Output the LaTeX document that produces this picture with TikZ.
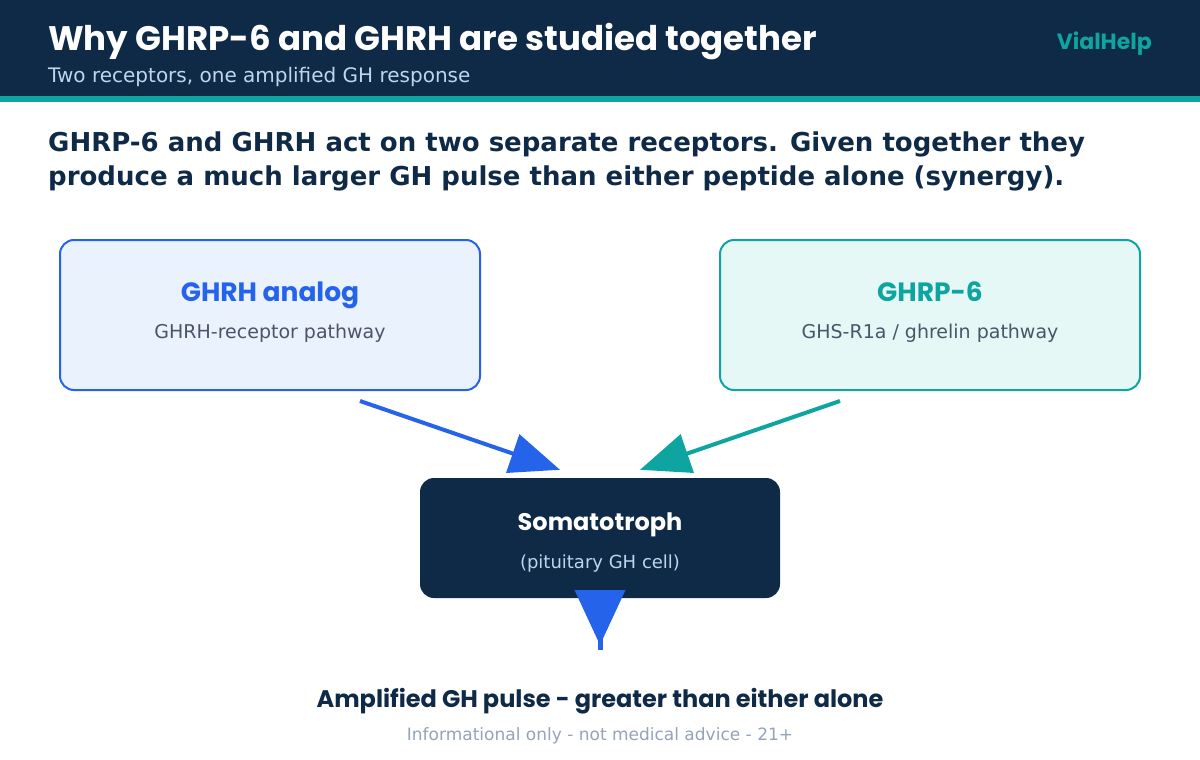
\documentclass[tikz,border=0pt]{standalone}
\usepackage{fontspec}
\setmainfont{DejaVu Sans}
\newfontfamily\popfont{Poppins}
\usetikzlibrary{arrows.meta,positioning}
\definecolor{navy}{HTML}{0F2A47}
\definecolor{tealc}{HTML}{0EA5A0}
\definecolor{bluec}{HTML}{2563EB}
\definecolor{bluebg}{HTML}{EAF2FD}
\definecolor{tealbg}{HTML}{E6F8F6}
\definecolor{subgray}{HTML}{4A5568}
\definecolor{footgray}{HTML}{94A3B8}
\definecolor{paleblue}{HTML}{BFD4EE}

\begin{document}
\begin{tikzpicture}[x=1pt,y=-1pt,
			pathbox/.style={draw, line width=2pt, rounded corners=14pt, minimum width=420pt, minimum height=150pt},
			txt/.style={anchor=base, inner sep=0pt},
			flow/.style={line width=4pt, -{Triangle[length=50pt,width=40pt]}}]
			\useasboundingbox (0,0) rectangle (1200,760);
			% header band
			\fill[navy] (0,0) rectangle (1200,96);
			\fill[tealc] (0,96) rectangle (1200,102);
			\node[txt, anchor=base west, text=white, font=\popfont\bfseries\fontsize{34}{40}\selectfont] (title) at (48,51) {Why GHRP-6 and GHRH are studied together};
			\node[txt, anchor=base west, text=paleblue, font=\fontsize{20}{24}\selectfont] (subtitle) at (48,82) {Two receptors, one amplified GH response};
			\node[txt, anchor=base east, text=tealc, font=\popfont\bfseries\fontsize{22}{26}\selectfont] (brand) at (1152,50) {VialHelp};
			% lead text
			\node[txt, anchor=base west, text=navy, font=\bfseries\fontsize{26}{34}\selectfont] (lead1) at (48,151) {GHRP-6 and GHRH act on two separate receptors. Given together they};
			\node[txt, anchor=base west, text=navy, font=\bfseries\fontsize{26}{34}\selectfont] (lead2) at (48,185) {produce a much larger GH pulse than either peptide alone (synergy).};
			% receptor boxes
			\node[pathbox, draw=bluec, fill=bluebg] (ghrh) at (270,315) {};
			\node[txt, text=bluec, font=\popfont\bfseries\fontsize{26.5}{30}\selectfont] (ghrhname) at (270,301) {GHRH analog};
			\node[txt, text=subgray, font=\fontsize{19}{23}\selectfont] (ghrhpath) at (270,338) {GHRH-receptor pathway};
			\node[pathbox, draw=tealc, fill=tealbg] (ghrp) at (930,315) {};
			\node[txt, text=tealc, font=\popfont\bfseries\fontsize{26.5}{30}\selectfont] (ghrpname) at (930,301) {GHRP-6};
			\node[txt, text=subgray, font=\fontsize{19}{23}\selectfont] (ghrppath) at (930,338) {GHS-R1a / ghrelin pathway};
			% target cell
			\node[fill=navy, rounded corners=14pt, minimum width=360pt, minimum height=120pt, inner sep=0pt] (soma) at (600,538) {};
			\node[txt, text=white, font=\popfont\bfseries\fontsize{24}{28}\selectfont] (somaname) at (600,530) {Somatotroph};
			\node[txt, text=paleblue, font=\fontsize{18}{22}\selectfont] (somacell) at (600,568) {(pituitary GH cell)};
			% arrows
			\coordinate (ghrhout) at ([xshift=90pt,yshift=-10pt]ghrh.south);
			\coordinate (ghrpout) at ([xshift=-90pt,yshift=-10pt]ghrp.south);
			\coordinate (somain1) at ([xshift=-40pt,yshift=8pt]soma.north);
			\coordinate (somain2) at ([xshift=40pt,yshift=8pt]soma.north);
			\coordinate (somaout) at ([yshift=8pt]soma.south);
			\coordinate (pulse) at (600,645);
			\coordinate (pulsestub) at (600,636);
			\coordinate (pulseend) at (600,650);
			\draw[flow, draw=bluec, fill=bluec] (ghrhout) -- (somain1);
			\draw[flow, draw=tealc, fill=tealc] (ghrpout) -- (somain2);
			\draw[line width=4pt, bluec, -{Triangle[length=55pt,width=50pt]}] (somaout) -- (pulse);
			\draw[line width=5pt, bluec] (pulsestub) -- (pulseend);
			% result
			\node[txt, text=navy, font=\popfont\bfseries\fontsize{24}{28}\selectfont] (result) at (600,707) {Amplified GH pulse - greater than either alone};
			\node[txt, text=footgray, font=\fontsize{17}{21}\selectfont] (note) at (600,740) {Informational only - not medical advice - 21+};
		\end{tikzpicture}
\end{document}
